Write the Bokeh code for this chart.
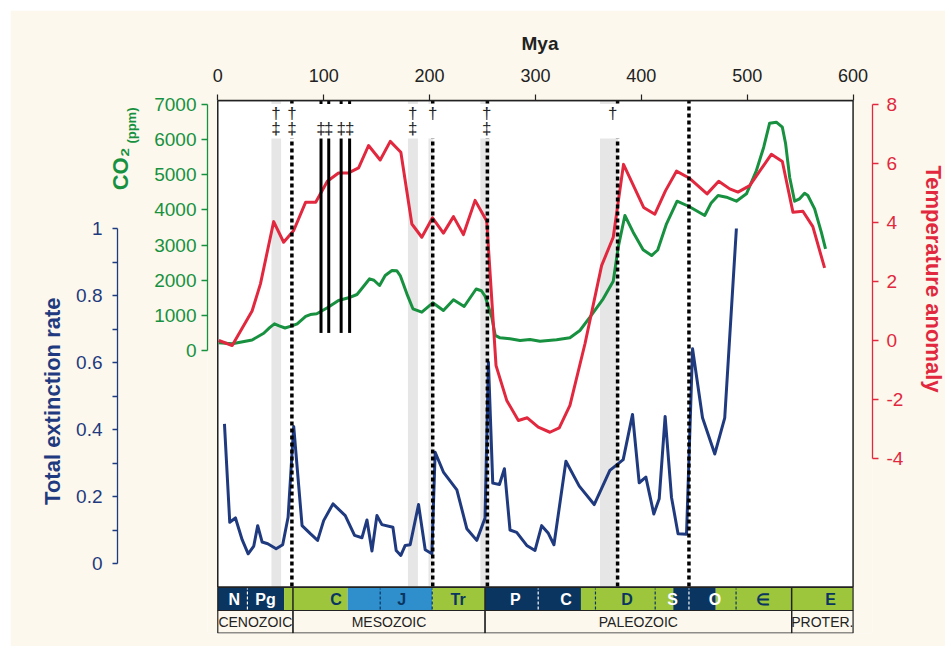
import numpy as np
from bokeh.plotting import figure
from bokeh.models import Range1d, LinearAxis, FixedTicker, Title
from bokeh.core.properties import value
from bokeh.embed import file_html
from bokeh.resources import INLINE

FONT = "Liberation Sans"
CREAM = "#fcf8ed"
GREEN = "#17913f"
RED = "#e1283e"
NAVY = "#1f3a7e"
DARK = "#222222"

# ---------------- data ----------------
temp_mya = [1, 13.6, 32.4, 40.3, 52.8, 62.2, 71.7, 83, 92.5, 103.5, 114, 123.5, 133, 142.4,
            153.4, 162.9, 172.9, 183.3, 192.7, 202.8, 213.1, 222.6, 232, 243, 254, 262.8,
            272.9, 283.9, 292.3, 302.7, 313.7, 322.5, 332.6, 346.8, 362.5, 373.5, 383.2,
            402.2, 412.8, 422.9, 433.2, 445.1, 462.1, 473.1, 483.5, 491.3, 502.4, 522.8,
            533.2, 543.2, 552.6, 562, 573.1]
temp_anom = [0.0, -0.17, 1.0, 1.92, 4.03, 3.33, 3.73, 4.69, 4.69, 5.4, 5.68, 5.68, 5.85, 6.61,
             6.12, 6.75, 6.38, 3.95, 3.5, 4.16, 3.64, 4.2, 3.59, 4.75, 4.05, -0.85,
             -2.03, -2.71, -2.62, -2.94, -3.11, -2.96, -2.2, -0.11, 2.54, 3.5, 5.97,
             4.51, 4.28, 5.08, 5.74, 5.51, 4.97, 5.4, 5.14, 5.03, 5.25, 6.31,
             6.07, 4.35, 4.38, 3.86, 2.46]

co2_mya = [1, 13.6, 32.4, 43.4, 49, 53.5, 58, 63.5, 70, 75, 83, 87.4, 93.5, 103.5, 114, 123.5,
           131.5, 137, 143.4, 147.5, 152.8, 158.1, 164.5, 169, 172.3, 178.6, 184.3, 192.7,
           203.1, 213.1, 222.6, 232.7, 244, 249, 252.4, 258.8, 262, 266.6, 276, 285.5, 294.9,
           304.3, 320, 332.6, 342, 351.5, 364, 373.5, 378.2, 384.5, 392.3, 401.7, 409.7,
           415.5, 423.8, 433.8, 445.1, 459.9, 466, 472.5, 480.4, 489.8, 499.3, 508.7, 515.6,
           521.2, 527.5, 533.2, 536.3, 540.1, 544.8, 549.5, 554.2, 557.3, 563.7, 570, 574]
co2_ppm = [220, 190, 300, 490, 650, 760, 700, 640, 700, 760, 968, 1024, 1044, 1215, 1423, 1500,
           1594, 1800, 2040, 2000, 1850, 2134, 2277, 2270, 2134, 1613, 1187, 1090,
           1357, 1138, 1443, 1252, 1750, 1700, 1550, 948, 430, 361, 333, 285, 313,
           265, 304, 361, 569, 948, 1471, 1972, 2940, 3842, 3367, 2870, 2703,
           2860, 3605, 4249, 4098, 3842, 4200, 4411, 4363, 4249, 4459, 5122, 5785,
           6468, 6497, 6355, 5882, 4932, 4249, 4317, 4476, 4411, 4032, 3367, 2894]

ext_mya = [6.3, 11.3, 16.7, 23, 28.7, 34, 37.7, 41.9, 47.2, 55.1, 61.3, 66.4, 71.7, 79.6, 87.4,
           94.3, 100, 108.8, 120.4, 129.2, 136.2, 140.9, 145.6, 150.3, 155, 165.4, 168.5,
           172.9, 177, 181.7, 189.6, 195.9, 202.2, 205.3, 213.1, 225.8, 235.2, 244.6, 252.4,
           255.6, 259.7, 266, 270.7, 276, 282.3, 291.8, 299.6, 305.9, 312.2, 317.5, 328.8,
           341.4, 355.5, 370.3, 382.9, 391.7, 398, 404.3, 411.8, 416.9, 422.5, 428.5, 434.7,
           442.7, 448.4, 457.8, 469.4, 478.8, 489.8]
ext_rate = [0.417, 0.123, 0.136, 0.071, 0.029, 0.052, 0.113, 0.064, 0.059, 0.044, 0.056, 0.138,
            0.409, 0.113, 0.089, 0.069, 0.128, 0.178, 0.143, 0.084, 0.077, 0.130, 0.037, 0.143,
            0.116, 0.108, 0.039, 0.024, 0.054, 0.056, 0.176, 0.041, 0.029, 0.332, 0.273, 0.22,
            0.104, 0.069, 0.136, 0.601, 0.24, 0.236, 0.283, 0.1, 0.093, 0.054, 0.039, 0.113,
            0.09, 0.056, 0.305, 0.231, 0.176, 0.278, 0.31, 0.445, 0.241, 0.258, 0.148, 0.193,
            0.439, 0.198, 0.089, 0.087, 0.641, 0.435, 0.327, 0.435, 1.0]

x_ticks = [0, 100, 200, 300, 400, 500, 600]
co2_ticks = [0, 1000, 2000, 3000, 4000, 5000, 6000, 7000]
temp_ticks = [-4, -2, 0, 2, 4, 6, 8]
temp_tick_text = {-4: "-4", -2: "-2"}
ext_ticks = [0, 0.2, 0.4, 0.6, 0.8, 1]
ext_minor = [0.1, 0.3, 0.5, 0.7, 0.9]

# extinction events
band_start = [50.7, 179.6, 199.0, 248.0, 361.0]
band_end = [59.8, 189.0, 203.5, 257.0, 378.0]
dotted_mya = [70, 203, 254.6, 377.6, 445]
oae_mya = [97.5, 104.8, 116.5, 124.5]
dagger_mya = [55, 70, 184, 203, 254, 373]
ddagger_mya = [55, 70, 97.5, 104.8, 116.5, 124.5, 184, 254]

# geological timescale
block_start = [0, 62.6, 122.7, 202.5, 252.4, 343, 430.2, 470.3, 542]
block_end = [62.6, 122.7, 202.5, 252.4, 343, 430.2, 470.3, 542, 600]
block_kind = ["cool", "warm", "cold", "warm", "cool", "warm", "cool", "warm", "warm"]
period_bounds = [28, 153.4, 202.5, 302.6, 356.7, 413.1, 445, 489.5]
period_names = ["N", "Pg", "C", "J", "Tr", "P", "C", "D", "S", "O", "∈", "E"]
period_mid = [15.6, 45, 111.7, 173.8, 227, 281, 329, 386.5, 429.5, 469.6, 515.3, 578.8]
era_names = ["CENOZOIC", "MESOZOIC", "PALEOZOIC", "PROTER."]
era_start = [0, 71, 252.4, 542]
era_end = [71, 252.4, 542, 600]

# ---------------- layout helpers ----------------
def ey(py):  # reference window pixel row -> extinction axis value
    return (563.0 - py) / 335.0

kind_color = {"cool": "#0a3561", "warm": "#9dc63c", "cold": "#2f8fcc"}
bound_color = {"cool": "white", "warm": "#0a3561", "cold": "#0a3561"}

def kind_at(m):
    for s, e, k in zip(block_start, block_end, block_kind):
        if s <= m < e:
            return k
    return "warm"

def spacer_axis(width, rng):
    return LinearAxis(y_range_name=rng, ticker=FixedTicker(ticks=[0]), bounds=(-1, 1),
                      axis_line_color=None, major_tick_line_color=None,
                      minor_tick_line_color=None, major_tick_in=0, major_tick_out=width,
                      minor_tick_out=0, minor_tick_in=0, major_label_standoff=0,
                      major_label_overrides={0: ""}, major_label_text_font_size="1px")

p = figure(width=935, height=636, output_backend="svg", toolbar_location=None,
           x_range=Range1d(-9.71, 618.35), y_range=Range1d(ey(633), ey(100)),
           x_axis_location="above", y_axis_location=None,
           min_border_left=197, min_border_right=72, min_border_top=90, min_border_bottom=13)
p.margin = (10, 6, 10, 10)
p.extra_y_ranges = {"co2": Range1d(-8053.5, 7114.4), "temp": Range1d(-9.932, 8.1356)}
p.background_fill_color = CREAM
p.border_fill_color = CREAM
p.outline_line_color = None
p.xgrid.visible = False
p.ygrid.visible = False

# top axis
xa = p.xaxis[0]
xa.ticker = FixedTicker(ticks=x_ticks)
xa.bounds = (0, 600)
xa.axis_label = "Mya"
xa.axis_label_text_font = FONT
xa.axis_label_text_font_style = "bold"
xa.axis_label_text_font_size = "19px"
xa.axis_label_text_color = DARK
xa.axis_label_standoff = 12
xa.major_label_text_font = FONT
xa.major_label_text_font_size = "18px"
xa.major_label_text_color = DARK
xa.major_label_standoff = 13
xa.axis_line_color = DARK
xa.axis_line_width = 1.5
xa.major_tick_line_color = DARK
xa.major_tick_line_width = 1.2
xa.major_tick_in = 0
xa.major_tick_out = 6
xa.minor_tick_line_color = None

# ---- left side: CO2 axis, its title, extinction axis, its title ----
co2_axis = LinearAxis(y_range_name="co2", ticker=FixedTicker(ticks=co2_ticks), bounds=(0, 7000),
                      axis_line_color=GREEN, axis_line_width=1.3,
                      major_tick_line_color=GREEN, major_tick_line_width=1.3,
                      major_tick_in=0, major_tick_out=6, minor_tick_line_color=None,
                      major_label_standoff=5, major_label_text_font=FONT,
                      major_label_text_font_size="19px", major_label_text_color=GREEN)
p.add_layout(co2_axis, "left")
p.add_layout(spacer_axis(12, "co2"), "left")
p.add_layout(Title(text="(ppm)", align="right", vertical_align="middle", offset=7,
                   standoff=0, text_font=FONT, text_font_style="bold",
                   text_font_size="13px", text_color=GREEN), "left")
p.add_layout(Title(text="CO₂", align="right", vertical_align="middle", offset=47,
                   standoff=-22, text_font=FONT, text_font_style="bold",
                   text_font_size="22px", text_color=GREEN), "left")

ext_axis = LinearAxis(ticker=FixedTicker(ticks=ext_ticks, minor_ticks=ext_minor), bounds=(0, 1),
                      axis_line_color=NAVY, axis_line_width=1.3,
                      major_tick_line_color=NAVY, major_tick_line_width=1.3,
                      minor_tick_line_color=NAVY, minor_tick_line_width=1.3,
                      major_tick_in=0, major_tick_out=5, minor_tick_in=0, minor_tick_out=5,
                      major_label_standoff=10, major_label_text_font=FONT,
                      major_label_text_font_size="19px", major_label_text_color=NAVY)
p.add_layout(ext_axis, "left")
p.add_layout(Title(text="Total extinction rate", align="right", vertical_align="bottom",
                   offset=197, standoff=18, text_font=FONT, text_font_style="bold",
                   text_font_size="22px", text_color=NAVY), "left")

# ---- right side: temperature axis and its title ----
temp_axis = LinearAxis(y_range_name="temp", ticker=FixedTicker(ticks=temp_ticks), bounds=(-4, 8),
                       axis_line_color=RED, axis_line_width=1.3,
                       major_tick_line_color=RED, major_tick_line_width=1.3,
                       major_tick_in=0, major_tick_out=6, minor_tick_line_color=None,
                       major_label_standoff=8, major_label_text_font=FONT,
                       major_label_text_font_size="19px", major_label_text_color=RED,
                       major_label_overrides=temp_tick_text)
p.add_layout(temp_axis, "right")
p.add_layout(spacer_axis(12, "temp"), "right")
p.add_layout(Title(text="Temperature anomaly", align="left", vertical_align="top",
                   offset=65, standoff=0, text_font=FONT, text_font_style="bold",
                   text_font_size="22px", text_color=RED), "right")

# plot box fill
p.quad(left=[0], right=[600], bottom=[ey(586.5)], top=[ey(100)], fill_color="white",
       line_color=None)

# grey bands
p.quad(left=band_start, right=band_end, bottom=ey(586), top=ey(100.5),
       fill_color="#e6e6e6", line_color=None)

# curves
p.line(co2_mya, co2_ppm, y_range_name="co2", line_color=GREEN, line_width=3, line_join="round")
p.line(temp_mya, temp_anom, y_range_name="temp", line_color=RED, line_width=3, line_join="round")
p.line(ext_mya, ext_rate, line_color=NAVY, line_width=3, line_join="round")

# event lines
p.segment(x0=dotted_mya, y0=ey(586), x1=dotted_mya, y1=ey(100.5), line_color="black",
          line_width=3.5, line_dash="4 3")
p.segment(x0=oae_mya, y0=500, x1=oae_mya, y1=7114, y_range_name="co2",
          line_color="black", line_width=3)

# white strip behind the symbols
p.quad(left=[0], right=[400], bottom=[ey(138)], top=[ey(103.5)], fill_color="white",
       line_color=None)
p.text(x=dagger_mya, y=ey(113), text=["†"] * len(dagger_mya), text_font=value(FONT),
       text_font_size="17px", text_color=DARK, text_align="center", text_baseline="middle")
p.text(x=ddagger_mya, y=ey(128), text=["‡"] * len(ddagger_mya), text_font=value(FONT),
       text_font_size="17px", text_color=DARK, text_align="center", text_baseline="middle")

# plot box outline
p.quad(left=[0], right=[600], bottom=[ey(586.5)], top=[ey(100)], fill_color=None,
       line_color=DARK, line_width=1.5)

# timescale: climate colour blocks
p.quad(left=block_start, right=block_end, bottom=ey(610), top=ey(587),
       fill_color=[kind_color[k] for k in block_kind], line_color=None)
p.segment(x0=period_bounds, y0=ey(609), x1=period_bounds, y1=ey(588),
          line_color=[bound_color[kind_at(b)] for b in period_bounds],
          line_width=1.2, line_dash="3 2")
p.quad(left=[0], right=[600], bottom=[ey(610)], top=[ey(587)], fill_color=None,
       line_color=DARK, line_width=1.2)
p.segment(x0=era_start[1:], y0=ey(610), x1=era_start[1:], y1=ey(587), line_color=DARK,
          line_width=1.5)
label_colors = ["white" if kind_at(m) == "cool" else "#0a3561" for m in period_mid]
label_colors[period_names.index("S")] = "white"
label_colors[period_names.index("O")] = "white"
p.text(x=period_mid, y=ey(598.5), text=period_names, text_font=value(FONT),
       text_font_style="bold", text_font_size="16px", text_color=label_colors,
       text_align="center", text_baseline="middle")

# eras
p.quad(left=era_start, right=era_end, bottom=ey(632.5), top=ey(610), fill_color=None,
       line_color=DARK, line_width=1.2)
p.text(x=[(a + b) / 2 for a, b in zip(era_start, era_end)], y=ey(621.5), text=era_names,
       text_font=value(FONT), text_font_size="14px", text_color=DARK,
       text_align="center", text_baseline="middle")

open("out.html", "w").write(file_html(p, INLINE))
